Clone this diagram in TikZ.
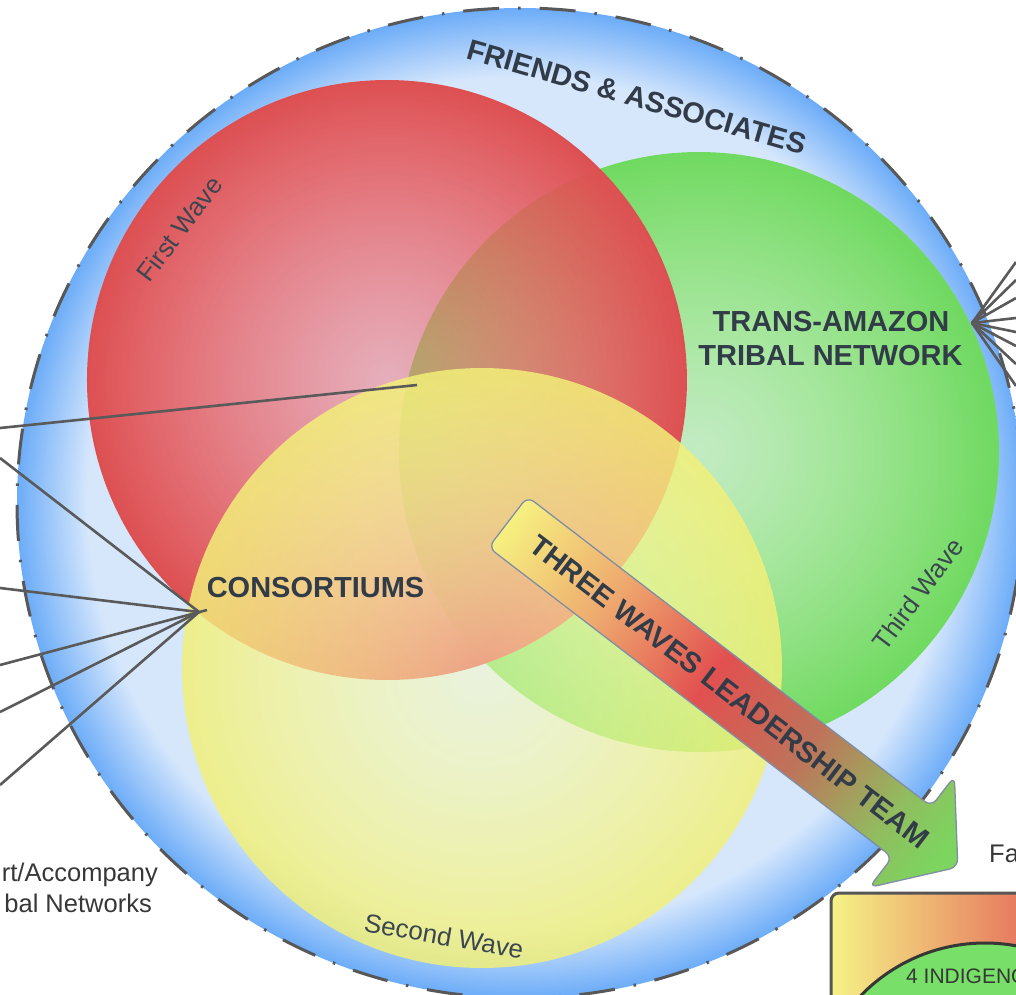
\documentclass[tikz,border=0pt]{standalone}
\usepackage{fontspec}
\setmainfont{Liberation Sans}
\usetikzlibrary{fadings}
\definecolor{ringin}{RGB}{214,231,252}
\definecolor{ringout}{RGB}{108,172,248}
\definecolor{dashcol}{RGB}{88,88,88}
\definecolor{linec}{RGB}{90,90,90}
\definecolor{rIn}{RGB}{245,120,125}
\definecolor{rOut}{RGB}{222,80,82}
\definecolor{gIn}{RGB}{175,240,140}
\definecolor{gOut}{RGB}{112,218,96}
\definecolor{yIn}{RGB}{255,255,190}
\definecolor{yOut}{RGB}{242,240,120}
\definecolor{aY}{RGB}{246,241,128}
\definecolor{aO}{RGB}{238,168,110}
\definecolor{aR}{RGB}{226,80,80}
\definecolor{aB}{RGB}{190,115,90}
\definecolor{aG2}{RGB}{145,188,95}
\definecolor{aG}{RGB}{125,212,95}
\definecolor{arrowedge}{RGB}{128,142,165}
\definecolor{bY}{RGB}{246,243,135}
\definecolor{bO}{RGB}{240,180,112}
\definecolor{bR}{RGB}{228,105,90}
\definecolor{boxedge}{RGB}{85,85,85}
\definecolor{elg}{RGB}{120,224,104}
\definecolor{lbl}{RGB}{50,60,72}
\definecolor{lbl2}{RGB}{60,70,80}
\definecolor{lbl3}{RGB}{55,55,55}
\pgfdeclareradialshading{ringshade}{\pgfpoint{0bp}{0bp}}{color(0bp)=(ringin); color(21.5bp)=(ringin); color(25bp)=(ringout); color(50bp)=(ringout)}
\pgfdeclarehorizontalshading{arrowshade}{100bp}{color(0bp)=(aY); color(25bp)=(aY); color(36.5bp)=(aO); color(47.5bp)=(aR); color(58bp)=(aB); color(67.5bp)=(aG2); color(73bp)=(aG); color(100bp)=(aG)}
\tikzfading[name=redfade, inner color=transparent!50, outer color=transparent!0]
\tikzfading[name=greenfade, inner color=transparent!50, outer color=transparent!0]
\tikzfading[name=yellowfade, inner color=transparent!52, outer color=transparent!15]
\tikzset{
  boldlbl/.style={inner sep=0pt, text=lbl, font=\bfseries\fontsize{29}{34}\selectfont},
  reglbl/.style={inner sep=0pt, text=lbl2, font=\fontsize{26}{31}\selectfont},
  smalllbl/.style={inner sep=0pt, text=lbl3, font=\fontsize{25.5}{30}\selectfont},
  conn/.style={draw=linec, line width=2.6pt},
}
\begin{document}
\begin{tikzpicture}[x=1pt, y=-1pt]
\useasboundingbox (0,0) rectangle (1016,994);
\clip (0,0) rectangle (1016,994);
% outer ring
\shade[shading=ringshade] (520,503) ellipse[x radius=503, y radius=495];
\draw[dashcol, line width=3pt, dash pattern=on 36pt off 19pt on 2.5pt off 19pt] (520,503) ellipse[x radius=503, y radius=495];
% three circles
\shade[inner color=gIn, outer color=gOut, path fading=greenfade] (699,452) circle[radius=300];
\shade[inner color=rIn, outer color=rOut, path fading=redfade] (387,380) circle[radius=300];
\shade[inner color=yIn, outer color=yOut, path fading=yellowfade] (482,668) circle[radius=300];
% connectors
\coordinate (hubL) at (199,612);
\coordinate (hubLx) at (207,610);
\coordinate (hubR) at (972,323);
\coordinate (hubC) at (417,385);
\coordinate (l0) at (0,428);
\coordinate (l1) at (0,458);
\coordinate (l2) at (0,588);
\coordinate (l3) at (0,665);
\coordinate (l4) at (0,712);
\coordinate (l5) at (0,785);
\coordinate (r1) at (1016,262);
\coordinate (r2) at (1016,280);
\coordinate (r3) at (1016,298);
\coordinate (r4) at (1016,318);
\coordinate (r5) at (1016,332);
\coordinate (r6) at (1016,346);
\coordinate (r7) at (1016,364);
\coordinate (r8) at (1016,386);
\draw[conn] (l0) -- (hubC);
\draw[conn] (l1) -- (hubL);
\draw[conn] (l2) -- (hubL);
\draw[conn] (l3) -- (hubLx);
\draw[conn] (l4) -- (hubL);
\draw[conn] (l5) -- (hubL);
\foreach \r in {r1,r2,r3,r4,r5,r6,r7,r8} {\draw[conn] (hubR) -- (\r);}
% labels
\node[boldlbl, rotate=-16] (friends) at (637,97) {FRIENDS \& ASSOCIATES};
\node[reglbl, rotate=53] (first) at (179.5,229) {First Wave};
\node[reglbl, rotate=53] (third) at (918,594) {Third Wave};
\node[reglbl, rotate=-10] (second) at (444,936) {Second Wave};
\node[boldlbl, anchor=base] (tan1) at (831,331) {TRANS-AMAZON};
\node[boldlbl, anchor=base] (tan2) at (830.5,365) {TRIBAL NETWORK};
\node[boldlbl, anchor=base] (cons) at (315.5,597) {CONSORTIUMS};
\node[smalllbl, anchor=base east] (supp1) at (158,881) {rt/Accompany};
\node[smalllbl, anchor=base east] (supp2) at (152,912) {bal Networks};
\node[smalllbl, anchor=base west] (fa) at (989,862) {Fa};
% bottom right box
\shadedraw[left color=bY, middle color=bO, right color=bR, draw=boxedge, line width=3pt, rounded corners=8pt] (831,893) rectangle (1045,1025);
\filldraw[fill=elg, draw=lbl3, line width=3pt] (985,1116) circle[radius=173];
\node[inner sep=0pt, text=lbl3, font=\fontsize{21}{25}\selectfont, anchor=base west] (indig) at (906,983) {4 INDIGENO};
% arrow
\begin{scope}[transform canvas={shift={(508,522)}, rotate=-37.5}]
\shadedraw[shading=arrowshade, draw=arrowedge, line width=1.3pt, rounded corners=8pt]
  (250,-32) -- (0,-32) -- (0,32) -- (509,32) -- (509,70) -- (567,0) -- (509,-70) -- (509,-32) -- cycle;
\node[boldlbl] (lead) at (279,0) {THREE WAVES LEADERSHIP TEAM};
\end{scope}
\end{tikzpicture}
\end{document}
